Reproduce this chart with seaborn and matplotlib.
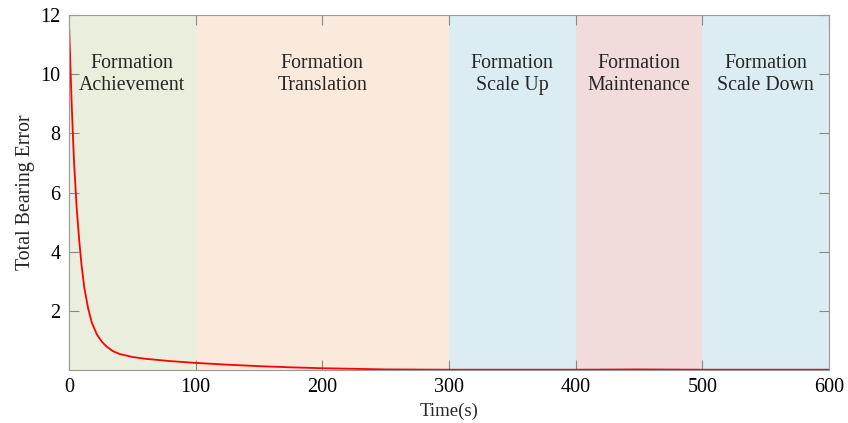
import numpy as np
import pandas as pd
import seaborn as sns
import matplotlib
matplotlib.use("Agg")
import matplotlib.pyplot as plt

# bearing error
time_s = [0, 1, 2, 3, 4, 6, 8, 10, 12, 15, 18, 22, 26, 30, 35, 40, 50, 60, 70,
          80, 100, 125, 150, 175, 200, 225, 250, 300, 350, 400, 450, 500, 550, 600]
bearing_error = [11.7, 10.4, 9.1, 8.0, 7.0, 5.5, 4.4, 3.5, 2.8, 2.1, 1.6, 1.2,
                 0.95, 0.78, 0.63, 0.54, 0.44, 0.38, 0.34, 0.30, 0.24, 0.18,
                 0.13, 0.09, 0.06, 0.04, 0.02, 0.01, 0.01, 0.01, 0.02, 0.01,
                 0.01, 0.01]

# phases
phase_start = [0, 100, 300, 400, 500]
phase_end = [100, 300, 400, 500, 600]
phase_names = ["Formation\nAchievement", "Formation\nTranslation",
               "Formation\nScale Up", "Formation\nMaintenance",
               "Formation\nScale Down"]
phase_colors = ["#e9efdc", "#fbe9dc", "#dbedf3", "#f1dbdb", "#dbedf3"]

sns.set_theme(style="ticks")
plt.rcParams["font.family"] = ["Liberation Serif", "DejaVu Serif"]
plt.rcParams["axes.edgecolor"] = "#999999"
plt.rcParams["xtick.color"] = "#888888"
plt.rcParams["ytick.color"] = "#888888"
plt.rcParams["xtick.labelcolor"] = "black"
plt.rcParams["ytick.labelcolor"] = "black"

fig = plt.figure(figsize=(8.48, 4.23), dpi=100)
ax = fig.add_axes([0.0814, 0.1253, 0.8962, 0.8392])

for s, e, name, c in zip(phase_start, phase_end, phase_names, phase_colors):
    ax.axvspan(s, e, color=c, lw=0, zorder=0)
    ax.text((s + e) / 2, 10.0, name, ha="center", va="center",
            fontsize=14.3, linespacing=1.2)

df = pd.DataFrame({"t": time_s, "err": bearing_error})
sns.lineplot(data=df, x="t", y="err", color="#ff0000", lw=1.3, ax=ax)

ax.set_xlim(0, 600)
ax.set_ylim(0, 12)
ax.set_xticks([0, 100, 200, 300, 400, 500, 600])
ax.set_yticks([2, 4, 6, 8, 10, 12])
ax.tick_params(direction="in", top=True, right=True, labelsize=14.5,
               length=7, width=0.8, pad=6)
for sp in ax.spines.values():
    sp.set_visible(True)
    sp.set_linewidth(0.8)
ax.set_xlabel("Time(s)", fontsize=13.5, labelpad=4)
ax.set_ylabel("Total Bearing Error", fontsize=14.3, labelpad=4)

fig.savefig("out.png", dpi=100)
